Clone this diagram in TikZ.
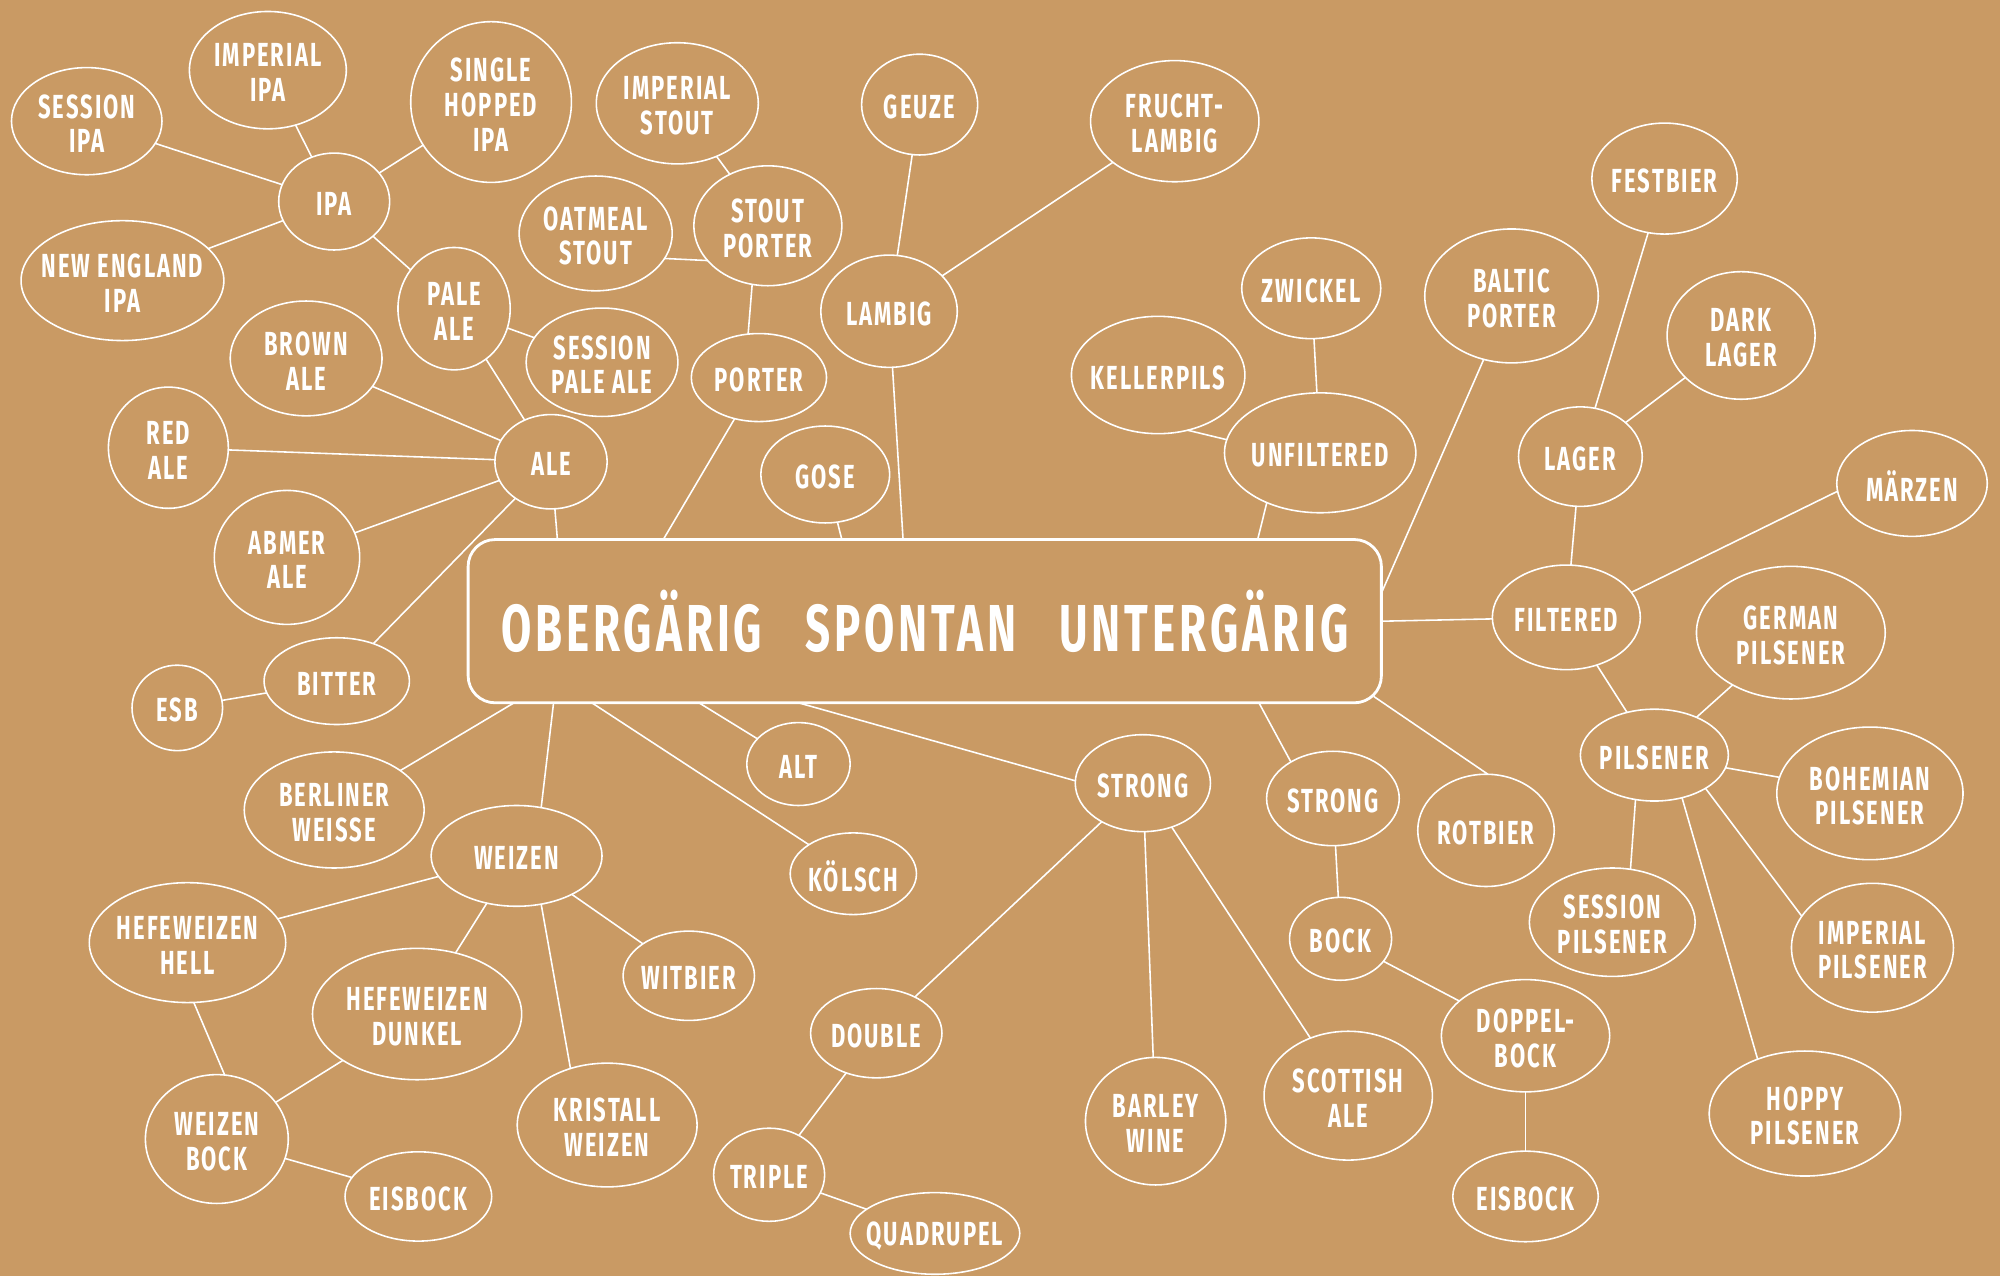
\documentclass[tikz,border=0pt]{standalone}
\usepackage{fontspec}
\setmainfont{Fira Sans}[FakeStretch=0.66, LetterSpace=6]
\usetikzlibrary{shapes.geometric}
\definecolor{bg}{HTML}{C99A64}
\tikzset{
 bub/.style 2 args={ellipse, draw=white, line width=0.45pt, minimum width=#1*0.012755cm, minimum height=#2*0.012755cm, inner sep=0pt, outer sep=0pt},
 every label/.style={align=center, text=white, font=\bfseries\fontsize{9.5}{9.9}\selectfont, inner sep=0pt, yshift=-0.7pt},
 con/.style={white, line width=0.45pt},
 mainbox/.style={draw=white, line width=0.8pt, rounded corners=0.27cm, minimum width=716*0.012755cm, minimum height=128*0.012755cm, text=white, font=\bfseries\fontsize{18.9}{22}\selectfont, inner sep=0pt},
}
\begin{document}
\begin{tikzpicture}[x=0.012755cm, y=-0.012755cm]
\fill[bg] (0,0) rectangle (1568,1000);
\useasboundingbox (0,0) rectangle (1568,1000);

\node[mainbox] (main) at (725,487) {OBERGÄRIG\hspace{0.43cm}SPONTAN\hspace{0.43cm}UNTERGÄRIG};

% ALE side
\node[bub={118}{84}, label={center:{SESSION\\IPA}}] (sipa) at (68,95) {};
\node[bub={123}{92}, label={center:{IMPERIAL\\IPA}}] (iipa) at (210,55) {};
\node[bub={126}{126}, label={center:{SINGLE\\HOPPED\\IPA}}] (shipa) at (385,80) {};
\node[bub={87}{76}, label={center:IPA}] (ipa) at (262,158) {};
\node[bub={159}{94}, label={center:{NEW ENGLAND\\IPA}}] (neipa) at (96,220) {};
\node[bub={88}{96}, label={center:{PALE\\ALE}}] (pale) at (356,242) {};
\node[bub={119}{90}, label={center:{BROWN\\ALE}}] (brown) at (240,281) {};
\node[bub={119}{85}, label={center:{SESSION\\PALE ALE}}] (spale) at (472,284) {};
\node[bub={94}{95}, label={center:{RED\\ALE}}] (red) at (132,351) {};
\node[bub={88}{74}, label={center:ALE}] (ale) at (432,362) {};
\node[bub={114}{105}, label={center:{ABMER\\ALE}}] (abmer) at (225,437) {};
\node[bub={71}{67}, label={center:ESB}] (esb) at (139,555) {};
\node[bub={114}{68}, label={center:BITTER}] (bitter) at (264,534) {};

% Stout / porter / lambig
\node[bub={127}{95}, label={center:{IMPERIAL\\STOUT}}] (istout) at (531,81) {};
\node[bub={120}{90}, label={center:{OATMEAL\\STOUT}}] (oat) at (467,183) {};
\node[bub={116}{94}, label={center:{STOUT\\PORTER}}] (sp) at (602,177) {};
\node[bub={106}{69}, label={center:PORTER}] (porter) at (595,296) {};
\node[bub={91}{79}, label={center:GEUZE}] (geuze) at (721,82) {};
\node[bub={132}{95}, label={center:{FRUCHT-\\LAMBIG}}] (fruc) at (921,95) {};
\node[bub={107}{88}, label={center:LAMBIG}] (lambig) at (697,244) {};
\node[bub={101}{76}, label={center:GOSE}] (gose) at (647,372) {};

% bottom left
\node[bub={141}{91}, label={center:{BERLINER\\WEISSE}}] (berl) at (262,635) {};
\node[bub={134}{79}, label={center:WEIZEN}] (weizen) at (405,671) {};
\node[bub={81}{65}, label={center:ALT}] (alt) at (626,599) {};
\node[bub={99}{64}, label={center:KÖLSCH}] (kol) at (669,685) {};
\node[bub={154}{94}, label={center:{HEFEWEIZEN\\HELL}}] (hell) at (147,739) {};
\node[bub={103}{70}, label={center:WITBIER}] (wit) at (540,765) {};
\node[bub={164}{103}, label={center:{HEFEWEIZEN\\DUNKEL}}] (dunkel) at (327,795) {};
\node[bub={141}{97}, label={center:{KRISTALL\\WEIZEN}}] (kri) at (476,882) {};
\node[bub={112}{101}, label={center:{WEIZEN\\BOCK}}] (wbock) at (170,893) {};
\node[bub={115}{70}, label={center:EISBOCK}] (eisl) at (328,938) {};

% strong
\node[bub={106}{76}, label={center:STRONG}] (stl) at (896,614) {};
\node[bub={103}{70}, label={center:DOUBLE}] (double) at (687,810) {};
\node[bub={87}{73}, label={center:TRIPLE}] (triple) at (603,921) {};
\node[bub={133}{64}, label={center:QUADRUPEL}] (quad) at (733,967) {};
\node[bub={110}{100}, label={center:{BARLEY\\WINE}}] (barley) at (906,879) {};
\node[bub={132}{101}, label={center:{SCOTTISH\\ALE}}] (scot) at (1057,859) {};

\node[bub={104}{74}, label={center:STRONG}] (str) at (1045,626) {};
\node[bub={80}{65}, label={center:BOCK}] (bock) at (1051,736) {};
\node[bub={107}{88}, label={center:ROTBIER}] (rot) at (1165,651) {};
\node[bub={132}{88}, label={center:{DOPPEL-\\BOCK}}] (doppel) at (1196,812) {};
\node[bub={114}{71}, label={center:EISBOCK}] (eisr) at (1196,938) {};

% lager side
\node[bub={109}{79}, label={center:ZWICKEL}] (zwi) at (1028,226) {};
\node[bub={136}{92}, label={center:KELLERPILS}] (kel) at (908,294) {};
\node[bub={150}{94}, label={center:UNFILTERED}] (unf) at (1035,355) {};
\node[bub={136}{105}, label={center:{BALTIC\\PORTER}}] (baltic) at (1185,232) {};
\node[bub={114}{87}, label={center:FESTBIER}] (fest) at (1305,140) {};
\node[bub={116}{100}, label={center:{DARK\\LAGER}}] (dark) at (1365,263) {};
\node[bub={97}{78}, label={center:LAGER}] (lager) at (1239,358) {};
\node[bub={118}{83}, label={center:MÄRZEN}] (mar) at (1499,379) {};
\node[bub={116}{82}, label={center:FILTERED}] (fil) at (1228,484) {};
\node[bub={148}{104}, label={center:{GERMAN\\PILSENER}}] (ger) at (1404,496) {};
\node[bub={116}{72}, label={center:PILSENER}] (pil) at (1297,592) {};
\node[bub={146}{104}, label={center:{BOHEMIAN\\PILSENER}}] (boh) at (1466,622) {};
\node[bub={130}{85}, label={center:{SESSION\\PILSENER}}] (sps) at (1264,723) {};
\node[bub={127}{101}, label={center:{IMPERIAL\\PILSENER}}] (ipl) at (1468,743) {};
\node[bub={150}{98}, label={center:{HOPPY\\PILSENER}}] (hop) at (1415,873) {};

% box attachment points
\coordinate (bPor) at (520,423);
\coordinate (bGose) at (660,423);
\coordinate (bLam) at (708,423);
\coordinate (bAle) at (437,423);
\coordinate (bUnf) at (986,423);
\coordinate (bBal) at (1083,465);
\coordinate (bBer) at (403,551);
\coordinate (bWei) at (434,551);
\coordinate (bKol) at (464,551);
\coordinate (bAlt) at (548,551);
\coordinate (bStl) at (626,551);
\coordinate (bStr) at (987,551);
\coordinate (bRot) at (1077,546);

% connectors
\draw[con] (sipa) -- (ipa);
\draw[con] (iipa) -- (ipa);
\draw[con] (shipa) -- (ipa);
\draw[con] (neipa) -- (ipa);
\draw[con] (ipa) -- (pale);
\draw[con] (pale) -- (spale);
\draw[con] (pale) -- (ale);
\draw[con] (brown) -- (ale);
\draw[con] (red) -- (ale);
\draw[con] (abmer) -- (ale);
\draw[con] (bitter) -- (ale);
\draw[con] (esb) -- (bitter);
\draw[con] (ale) -- (bAle);
\draw[con] (istout) -- (sp);
\draw[con] (oat.-20) -- (sp.210);
\draw[con] (sp.255) -- (porter.104);
\draw[con] (porter) -- (bPor);
\draw[con] (geuze) -- (lambig);
\draw[con] (fruc) -- (lambig);
\draw[con] (lambig) -- (bLam);
\draw[con] (gose) -- (bGose);
\draw[con] (bBer) -- (berl);
\draw[con] (bWei) -- (weizen.63);
\draw[con] (bKol) -- (kol);
\draw[con] (bAlt) -- (alt);
\draw[con] (bStl) -- (stl.178);
\draw[con] (weizen) -- (hell);
\draw[con] (weizen) -- (wit);
\draw[con] (weizen) -- (dunkel);
\draw[con] (weizen.-63) -- (kri.123);
\draw[con] (hell.-84) -- (wbock.83);
\draw[con] (dunkel) -- (wbock);
\draw[con] (wbock) -- (eisl);
\draw[con] (stl) -- (double);
\draw[con] (stl) -- (barley);
\draw[con] (stl) -- (scot);
\draw[con] (double) -- (triple);
\draw[con] (triple) -- (quad);
\draw[con] (bStr) -- (str.139);
\draw[con] (str) -- (bock);
\draw[con] (bock) -- (doppel);
\draw[con] (doppel) -- (eisr);
\draw[con] (bRot) -- (rot.88);
\draw[con] (zwi) -- (unf);
\draw[con] (kel.-62) -- (unf.172);
\draw[con] (unf.223) -- (bUnf);
\draw[con] (baltic) -- (bBal);
\draw[con] (main.east) -- (fil);
\draw[con] (fil) -- (lager);
\draw[con] (lager) -- (fest);
\draw[con] (lager) -- (dark);
\draw[con] (fil.21) -- (mar.186);
\draw[con] (fil) -- (pil);
\draw[con] (pil) -- (ger);
\draw[con] (pil) -- (boh);
\draw[con] (pil.-113) -- (sps.71);
\draw[con] (pil.-33) -- (ipl.156);
\draw[con] (pil.-57) -- (hop.131);
\end{tikzpicture}
\end{document}
